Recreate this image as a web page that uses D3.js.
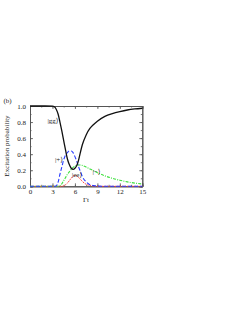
<!DOCTYPE html>
<html>
<head>
<meta charset="utf-8">
<script src="https://cdn.jsdelivr.net/npm/d3@7"></script>
<style>
body{margin:0;background:#fff;}
svg{display:block;font-family:"Liberation Serif","DejaVu Serif",serif;}
</style>
</head>
<body>
<script>
// time grid (Γt) and populations
var tGrid=[0,1,2,3,3.25,3.5,3.75,4,4.25,4.5,4.75,5,5.25,5.5,5.75,6,6.25,6.5,6.75,7,7.5,8,8.5,9,10,11,12,13,14,15];
var popGG=[1,1,1,0.998,0.99,0.96,0.9,0.8,0.69,0.57,0.45,0.34,0.27,0.225,0.212,0.225,0.26,0.33,0.43,0.52,0.64,0.72,0.77,0.81,0.87,0.905,0.93,0.95,0.963,0.972];
var popPlus=[0,0,0,0,0,0.005,0.05,0.15,0.24,0.33,0.39,0.42,0.44,0.44,0.42,0.37,0.31,0.24,0.18,0.12,0.055,0.02,0.008,0.002,0,0,0,0,0,0];
var popMinus=[0,0,0,0,0,0,0,0.01,0.03,0.07,0.11,0.15,0.18,0.21,0.235,0.25,0.26,0.265,0.265,0.26,0.24,0.215,0.195,0.17,0.13,0.1,0.075,0.055,0.04,0.028];
var popEE=[0,0,0,0,0,0,0,0,0,0.005,0.02,0.04,0.07,0.1,0.125,0.135,0.13,0.11,0.085,0.06,0.025,0.01,0.003,0,0,0,0,0,0,0];
var xTicks=[0,3,6,9,12,15];
var yTicks=[0,0.2,0.4,0.6,0.8,1.0];

var width=249,height=323;
var plotL=30,plotR=142.3,plotT=106,plotB=186.3;

var svg=d3.select('body').append('svg')
.attr('width',width)
.attr('height',height);

var x=d3.scaleLinear().domain([0,15]).range([plotL,plotR]);
var y=d3.scaleLinear().domain([0,1]).range([plotB,plotT]);

var series=[
    {vals:popGG,color:'#111',dash:null,w:1.3},
    {vals:popPlus,color:'#2a3cff',dash:'4,2',w:1.1},
    {vals:popMinus,color:'#3ee03e',dash:'3,1.2,1,1.2',w:1.1},
    {vals:popEE,color:'#ff3b3b',dash:'1.5,1',w:1}
];

var line=d3.line()
.x((d)=>x(d[0]))
.y((d)=>y(d[1]))
.curve(d3.curveMonotoneX);

// frame and ticks
function styleAxis(g){
    g.select('.domain').attr('stroke','#555').attr('stroke-width',1);
    g.selectAll('.tick line').attr('stroke','#555').attr('stroke-width',0.8);
    g.selectAll('text').attr('font-size','7px').attr('fill','#222')
    .attr('font-family','"Liberation Serif",serif');
}
var xMinor=d3.range(0,15.01,1.5);
var yMinor=d3.range(0,1.001,0.1);

svg.append('g').attr('transform','translate(0,'+plotB+')')
.call(d3.axisBottom(x).tickValues(xMinor).tickSize(-1.5).tickFormat(''))
.call(styleAxis);
svg.append('g').attr('transform','translate(0,'+plotT+')')
.call(d3.axisTop(x).tickValues(xMinor).tickSize(-1.5).tickFormat(''))
.call(styleAxis);
svg.append('g').attr('transform','translate('+plotL+',0)')
.call(d3.axisLeft(y).tickValues(yMinor).tickSize(-1.5).tickFormat(''))
.call(styleAxis);
svg.append('g').attr('transform','translate('+plotR+',0)')
.call(d3.axisRight(y).tickValues(yMinor).tickSize(-1.5).tickFormat(''))
.call(styleAxis);

svg.append('g').attr('transform','translate(0,'+plotB+')')
.call(d3.axisBottom(x).tickValues(xTicks).tickSize(-3).tickPadding(3).tickFormat(d3.format('d')))
.call(styleAxis);
svg.append('g').attr('transform','translate(0,'+plotT+')')
.call(d3.axisTop(x).tickValues(xTicks).tickSize(-3).tickFormat(''))
.call(styleAxis);
svg.append('g').attr('transform','translate('+plotL+',0)')
.call(d3.axisLeft(y).tickValues(yTicks).tickSize(-3).tickPadding(4).tickFormat(d3.format('.1f')))
.call(styleAxis);
svg.append('g').attr('transform','translate('+plotR+',0)')
.call(d3.axisRight(y).tickValues(yTicks).tickSize(-3).tickFormat(''))
.call(styleAxis);

// curves, drawn bottom-up so the black one sits on top
series.slice().reverse().forEach(function(s){
    svg.append('path')
    .datum(tGrid.map((t,i)=>[t,s.vals[i]]))
    .attr('d',line)
    .attr('fill','none')
    .attr('stroke',s.color)
    .attr('stroke-width',s.w)
    .attr('stroke-dasharray',s.dash);
});

// labels
var labels=[
    {t:'(b)',x:7.5,y:101},
    {t:'|gg\u27E9',x:53,y:121},
    {t:'|+\u27E9',x:59,y:160},
    {t:'|ee\u27E9',x:77,y:174.5},
    {t:'|\u2212\u27E9',x:96.5,y:172},
    {t:'\u0393t',x:86,y:200}
];
svg.selectAll('text.lab')
.data(labels)
.enter()
.append('text')
.attr('class','lab')
.attr('x',(d)=>d.x)
.attr('y',(d)=>d.y)
.attr('dy','0.35em')
.attr('text-anchor','middle')
.attr('font-size','7px')
.attr('fill','#222')
.text((d)=>d.t);

svg.append('text')
.attr('transform','translate(7,146) rotate(-90)')
.attr('dy','0.35em')
.attr('text-anchor','middle')
.attr('font-size','7px')
.attr('fill','#222')
.text('Excitation probability');
</script>
</body>
</html>
